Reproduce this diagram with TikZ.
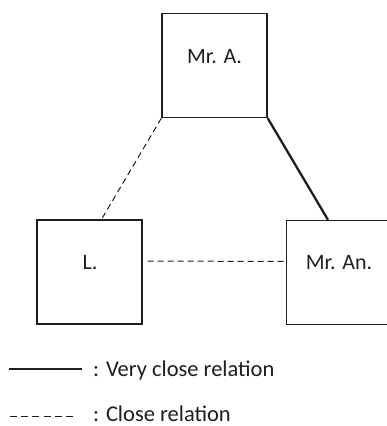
\documentclass[tikz,border=0pt]{standalone}
\usepackage{fontspec}
\setmainfont{Carlito}
\definecolor{ink}{HTML}{1E1E1E}
\begin{document}
\begin{tikzpicture}[x=1pt,y=-1pt,
  box/.style={draw=ink,line width=1.3pt,minimum width=105pt,minimum height=104pt,inner sep=0pt},
  lbl/.style={text=ink,font=\fontsize{22}{26}\selectfont,inner sep=0pt,anchor=base},
  leg/.style={text=ink,font=\fontsize{22.5}{26}\selectfont,inner sep=0pt,anchor=base west},
  strong/.style={draw=ink,line width=2.3pt},
  weak/.style={draw=ink,line width=1pt,dash pattern=on 6pt off 4pt}]
\useasboundingbox (0,0) rectangle (386,426);
\node[box] (A) at (214.5,65.5) {};
\node[box] (L) at (89.5,272) {};
\node[box] (An) at (339,272.5) {};
\node[lbl] (tA) at (214.5,63) {Mr. A.};
\node[lbl] (tL) at (90,269) {L.};
\node[lbl] (tAn) at (339,269) {Mr. An.};
\draw[weak] (A.south west) -- ([xshift=12pt]L.north);
\draw[strong] (A.south east) -- ([xshift=-11pt]An.north);
\draw[weak] ([xshift=5pt,yshift=11pt]L.east) -- ([yshift=11pt]An.west);
\coordinate (s1) at (9,369);
\coordinate (s2) at (82,369);
\coordinate (d1) at (10,416);
\coordinate (d2) at (73,416);
\draw[strong,line width=2pt] (s1) -- (s2);
\draw[weak,dash pattern=on 7pt off 4.2pt] (d1) -- (d2);
\node[leg] (l1) at (93,376) {: Very close relation};
\node[leg] (l2) at (93,421) {: Close relation};
\end{tikzpicture}
\end{document}
